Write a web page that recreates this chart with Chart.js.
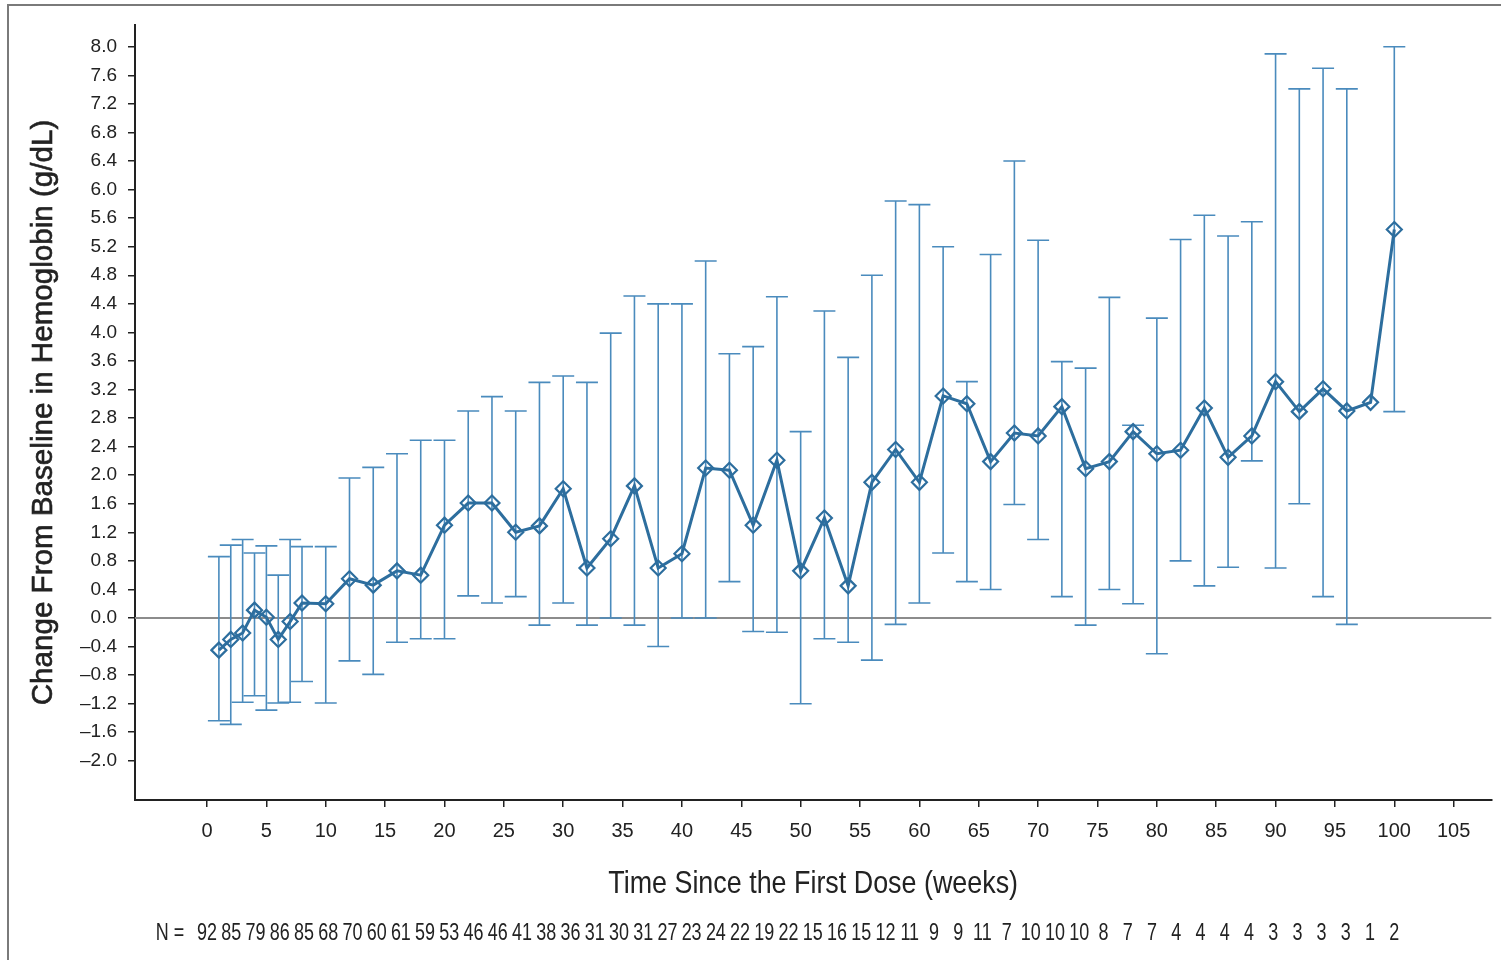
<!DOCTYPE html>
<html>
<head>
<meta charset="utf-8">
<script src="https://cdn.jsdelivr.net/npm/chart.js@4/dist/chart.umd.min.js"></script>
<style>
    html, body { margin: 0; padding: 0; background: #ffffff; }
    canvas { display: block; }
</style>
</head>
<body>
<canvas id="ChartCanvas" width="1501" height="960"></canvas>
<script>
// Weeks since first dose, mean change and the error bar ends (g/dL)
const weeks = [1, 2, 3, 4, 5, 6, 7, 8,
    10, 12, 14, 16, 18, 20, 22, 24, 26, 28, 30, 32, 34, 36, 38, 40, 42, 44, 46, 48, 50,
    52, 54, 56, 58, 60, 62, 64, 66, 68, 70, 72, 74, 76, 78, 80, 82, 84, 86, 88, 90,
    92, 94, 96, 98, 100];

const meanChange = [-0.45, -0.30, -0.21, 0.11, 0.01, -0.30, -0.05, 0.21,
    0.20, 0.55, 0.46, 0.66, 0.60, 1.30, 1.61, 1.61, 1.20, 1.29, 1.81, 0.70, 1.11, 1.85, 0.70, 0.90, 2.10, 2.07, 1.30, 2.21, 0.66,
    1.40, 0.45, 1.90, 2.36, 1.90, 3.11, 3.00, 2.19, 2.59, 2.55, 2.96, 2.09, 2.19, 2.61, 2.30, 2.35, 2.94, 2.25, 2.55, 3.31,
    2.89, 3.21, 2.90, 3.02, 5.44];

const upperBar = [0.86, 1.02, 1.10, 0.91, 1.01, 0.60, 1.10, 1.00,
    1.00, 1.96, 2.11, 2.30, 2.49, 2.49, 2.90, 3.10, 2.90, 3.30, 3.39, 3.30, 3.99, 4.51, 4.40, 4.40, 5.00, 3.70, 3.80, 4.50, 2.61,
    4.30, 3.65, 4.80, 5.84, 5.79, 5.20, 3.31, 5.09, 6.40, 5.29, 3.59, 3.50, 4.49, 2.70, 4.20, 5.30, 5.64, 5.35, 5.55, 7.90,
    7.41, 7.70, 7.41, null, 8.00];

const lowerBar = [-1.44, -1.49, -1.18, -1.09, -1.29, -1.19, -1.18, -0.89,
    -1.19, -0.60, -0.79, -0.34, -0.29, -0.29, 0.31, 0.21, 0.30, -0.10, 0.21, -0.10, 0.00, -0.10, -0.40, 0.00, 0.00, 0.51, -0.19, -0.20, -1.20,
    -0.29, -0.34, -0.59, -0.09, 0.21, 0.91, 0.51, 0.40, 1.59, 1.10, 0.30, -0.10, 0.40, 0.20, -0.50, 0.80, 0.45, 0.71, 2.20, 0.70,
    1.60, 0.30, -0.09, null, 2.89];

// Number of patients row under the axis
const patientCounts = [92, 85, 79, 86, 85, 68, 70, 60, 61, 59, 53, 46, 46, 41, 38, 36, 31, 30, 31, 27,
    23, 24, 22, 19, 22, 15, 16, 15, 12, 11, 9, 9, 11, 7, 10, 10, 10, 8, 7, 7,
    4, 4, 4, 4, 3, 3, 3, 3, 1, 2];

const xTickValues = [0, 5, 10, 15, 20, 25, 30, 35, 40, 45, 50, 55, 60, 65, 70, 75, 80, 85, 90, 95, 100, 105];
const yTickSteps = [-5, -4, -3, -2, -1, 0, 1, 2, 3, 4, 5, 6, 7, 8, 9, 10, 11, 12, 13, 14, 15, 16, 17, 18, 19, 20];

const xTitle = 'Time Since the First Dose (weeks)';
const yTitle = 'Change From Baseline in Hemoglobin (g/dL)';

const lineColor = '#2d6e9e';
const barColor  = '#4a8bbd';
const inkColor  = '#222222';
const baseFont  = "'Liberation Sans', Arial, sans-serif";

Initialize();

function Initialize()
{
    const ctx = document.getElementById('ChartCanvas').getContext('2d');

    // Page frame, white background and the zero reference line
    const backdrop =
    {
        id: 'backdrop',
        beforeDraw(chart)
        {
            const c = chart.ctx;
            c.save();
            c.fillStyle = '#ffffff';
            c.fillRect(0, 0, chart.width, chart.height);
            c.strokeStyle = '#7a7a7a';
            c.lineWidth = 2;
            c.beginPath();
            c.moveTo(8, chart.height);
            c.lineTo(8, 5);
            c.lineTo(chart.width, 5);
            c.stroke();
            c.restore();
        },
        beforeDatasetsDraw(chart)
        {
            const c = chart.ctx;
            const area = chart.chartArea;
            const zeroY = chart.scales.y.getPixelForValue(0);
            c.save();
            c.strokeStyle = '#8c8c8c';
            c.lineWidth = 2;
            c.beginPath();
            c.moveTo(area.left, zeroY);
            c.lineTo(area.right, zeroY);
            c.stroke();
            c.restore();
        }
    };

    // Vertical error bars with caps
    const errorBars =
    {
        id: 'errorBars',
        beforeDatasetsDraw(chart)
        {
            const c = chart.ctx;
            const x = chart.scales.x;
            const y = chart.scales.y;
            c.save();
            c.strokeStyle = barColor;
            c.lineWidth = 1.6;
            weeks.forEach((w, i) =>
            {
                if (upperBar[i] === null) return;
                const px  = x.getPixelForValue(w);
                const top = y.getPixelForValue(upperBar[i]);
                const bot = y.getPixelForValue(lowerBar[i]);
                c.beginPath();
                c.moveTo(px, top);
                c.lineTo(px, bot);
                c.moveTo(px - 11, top);
                c.lineTo(px + 11, top);
                c.moveTo(px - 11, bot);
                c.lineTo(px + 11, bot);
                c.stroke();
            });
            c.restore();
        }
    };

    // Axis titles (condensed look) and the "N =" row, spread evenly under weeks 0..100
    const textLayer =
    {
        id: 'textLayer',
        afterDraw(chart)
        {
            const c = chart.ctx;
            const x = chart.scales.x;
            const area = chart.chartArea;
            c.save();
            c.fillStyle = inkColor;
            c.strokeStyle = inkColor;
            c.textAlign = 'center';
            c.textBaseline = 'alphabetic';

            // x title
            c.save();
            c.translate((area.left + area.right) / 2, 893);
            c.scale(0.84, 1);
            c.font = '32px ' + baseFont;
            c.fillText(xTitle, 0, 0);
            c.restore();

            // y title
            c.save();
            c.translate(52, (area.top + area.bottom) / 2);
            c.rotate(-Math.PI / 2);
            c.font = '29.6px ' + baseFont;
            c.lineWidth = 0.6;
            c.fillText(yTitle, 0, 0);
            c.strokeText(yTitle, 0, 0);
            c.restore();

            // patient counts
            c.font = '23px ' + baseFont;
            const rowY = 940;
            const last = patientCounts.length - 1;
            patientCounts.forEach((n, i) =>
            {
                c.save();
                c.translate(x.getPixelForValue(i * 100 / last), rowY);
                c.scale(0.78, 1);
                c.fillText(String(n), 0, 0);
                c.restore();
            });
            c.save();
            c.translate(x.getPixelForValue(0) - 37, rowY);
            c.scale(0.78, 1);
            c.fillText('N =', 0, 0);
            c.restore();

            c.restore();
        }
    };

    const chart = new Chart(ctx,
    {
        type: 'line',
        data:
        {
            datasets:
            [
                {
                    label: 'Mean change',
                    data: weeks.map((w, i) => ({ x: w, y: meanChange[i] })),
                    borderColor: lineColor,
                    borderWidth: 3,
                    tension: 0,
                    pointStyle: 'rectRot',
                    pointRadius: 7.5,
                    pointBorderWidth: 2.2,
                    pointBorderColor: lineColor,
                    pointBackgroundColor: 'rgba(255, 255, 255, 0)'
                }
            ]
        },
        options:
        {
            responsive: false,
            devicePixelRatio: 1,
            animation: false,
            layout: { padding: { left: 10, top: 25, right: 4, bottom: 55 } },
            plugins:
            {
                legend: { display: false },
                tooltip: { enabled: false }
            },
            scales:
            {
                x:
                {
                    type: 'linear',
                    min: -6.066,
                    max: 108.17,
                    afterBuildTicks: scale => { scale.ticks = xTickValues.map(v => ({ value: v })); },
                    afterFit: scale => { scale.height = 105; },
                    grid: { drawOnChartArea: false, drawTicks: true, tickLength: 7, color: inkColor, lineWidth: 1.5 },
                    border: { display: true, color: inkColor, width: 2 },
                    ticks:
                    {
                        color: inkColor,
                        padding: 12,
                        maxRotation: 0,
                        font: { family: baseFont, size: 20 },
                        callback: v => String(v)
                    }
                },
                y:
                {
                    type: 'linear',
                    min: -2.549,
                    max: 8.305,
                    afterBuildTicks: scale => { scale.ticks = yTickSteps.map(s => ({ value: Math.round(s * 4) / 10 })); },
                    afterFit: scale => { scale.width = 125; },
                    grid: { drawOnChartArea: false, drawTicks: true, tickLength: 7, color: inkColor, lineWidth: 1.5 },
                    border: { display: true, color: inkColor, width: 2 },
                    ticks:
                    {
                        color: inkColor,
                        padding: 11,
                        font: { family: baseFont, size: 19 },
                        callback: v => (v < 0 ? '\u2013' : '') + Math.abs(v).toFixed(1)
                    }
                }
            }
        },
        plugins: [backdrop, errorBars, textLayer]
    });
}
</script>
</body>
</html>
